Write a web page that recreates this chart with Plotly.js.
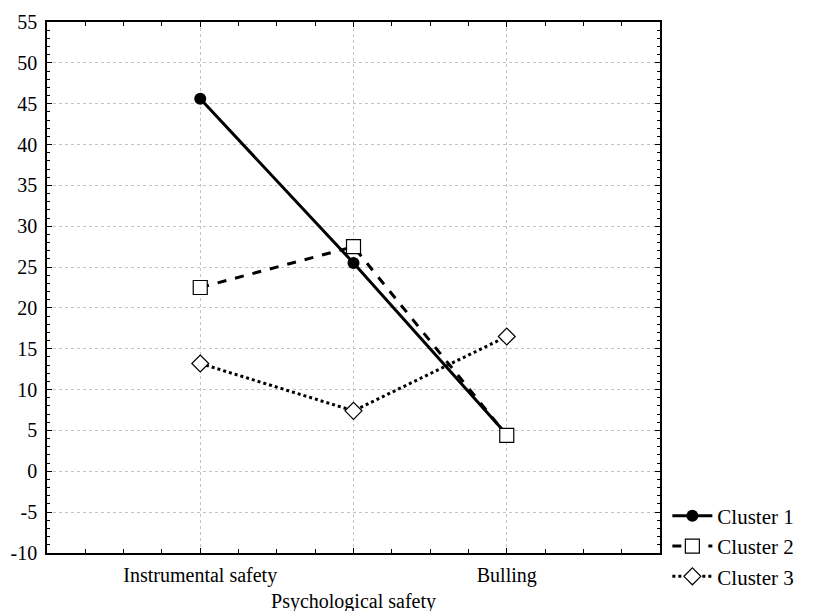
<!DOCTYPE html>
<html><head><meta charset="utf-8">
<script src="https://cdn.plot.ly/plotly-3.0.1.min.js"></script>
<style>body{margin:0;background:#fff}#c{width:814px;height:611px}</style>
</head><body><div id="c"></div>
<script>
const categories = ["Instrumental safety", "Psychological safety", "Bulling"];
const tickLabels = ["Instrumental safety", "<br>Psychological safety", "Bulling"];
const yTickValues = [-10, -5, 0, 5, 10, 15, 20, 25, 30, 35, 40, 45, 50, 55];
const cluster1 = [45.6, 25.5, 4.5];
const cluster2 = [22.5, 27.5, 4.4];
const cluster3 = [13.2, 7.4, 16.5];
const seriesNames = ["Cluster 1", "Cluster 2", "Cluster 3"];

const xIdx = categories.map((c, i) => i);
const font = {family: "'Liberation Serif', 'Times New Roman', serif", color: "#000"};

const traces = [
  {x: xIdx, y: cluster1, name: seriesNames[0], mode: "lines+markers", type: "scatter",
   line: {color: "#000", width: 3, dash: "solid"},
   marker: {symbol: "circle", size: 12, color: "#000"}},
  {x: xIdx, y: cluster2, name: seriesNames[1], mode: "lines+markers", type: "scatter",
   line: {color: "#000", width: 3, dash: "dash"},
   marker: {symbol: "square", size: 14, color: "#fff", line: {color: "#000", width: 1.2}}},
  {x: xIdx, y: cluster3, name: seriesNames[2], mode: "lines+markers", type: "scatter",
   line: {color: "#000", width: 3, dash: "dot"},
   marker: {symbol: "diamond", size: 13, color: "#fff", line: {color: "#000", width: 1.2}}}
];

const layout = {
  width: 814, height: 611,
  margin: {l: 47, r: 154, t: 22, b: 58},
  paper_bgcolor: "#fff", plot_bgcolor: "#fff",
  font: Object.assign({size: 20}, font),
  showlegend: true,
  legend: {x: 1.012, xanchor: "left", y: 0.013, yanchor: "middle",
           font: Object.assign({size: 21}, font), tracegroupgap: 0, itemwidth: 40},
  xaxis: {
    type: "linear", range: [-1, 3],
    tickvals: xIdx, ticktext: tickLabels, tickangle: 0,
    showline: true, linecolor: "#000", linewidth: 1.5, mirror: "ticks",
    ticks: "inside", ticklen: 5, tickcolor: "#000", tickwidth: 1,
    showgrid: true, gridcolor: "#c4c4c4", griddash: "dot", gridwidth: 1,
    zeroline: false, ticklabelstandoff: 3,
    minor: {dtick: 0.25, tick0: 0, ticks: "inside", ticklen: 4, tickcolor: "#000", showgrid: false},
    tickfont: Object.assign({size: 20}, font)
  },
  yaxis: {
    range: [-10, 55],
    tickvals: yTickValues, ticktext: yTickValues.map(String),
    showline: true, linecolor: "#000", linewidth: 1.5, mirror: "ticks",
    ticks: "inside", ticklen: 5, tickcolor: "#000", tickwidth: 1,
    showgrid: true, gridcolor: "#c4c4c4", griddash: "dot", gridwidth: 1,
    zeroline: false, ticklabelstandoff: 4,
    minor: {dtick: 1, tick0: 0, ticks: "inside", ticklen: 3, tickcolor: "#000", showgrid: false},
    tickfont: Object.assign({size: 20}, font)
  }
};
Plotly.newPlot("c", traces, layout, {displayModeBar: false});
</script></body></html>
